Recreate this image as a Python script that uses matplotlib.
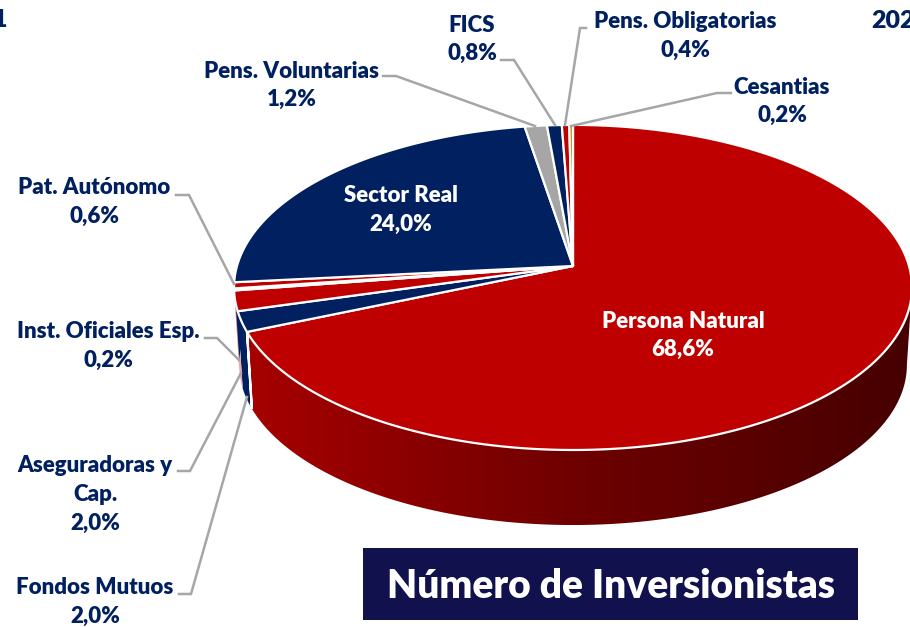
import matplotlib
matplotlib.use("Agg")
import matplotlib.pyplot as plt
import numpy as np
from matplotlib.colors import LinearSegmentedColormap
from matplotlib.patches import Polygon, Rectangle

plt.rcParams["font.family"] = ["Lato", "DejaVu Sans"]

# clockwise from 12 o'clock
categories = ["Persona Natural", "Fondos Mutuos", "Aseguradoras y\nCap.", "Inst. Oficiales Esp.",
              "Pat. Autónomo", "Sector Real", "Pens. Voluntarias", "FICS",
              "Pens. Obligatorias", "Cesantias"]
values = [68.6, 2.0, 2.0, 0.2, 0.6, 24.0, 1.2, 0.8, 0.4, 0.2]
colors = ["#BE0000", "#002060", "#BE0000", "#F4C6C6", "#BE0000", "#002060", "#A6A6A6", "#002060",
          "#BE0000", "#BF9000"]
side_colors = [None, "#002060", "#EDA9A9", "#EDA9A9", "#EDA9A9", "#002060", "#A6A6A6", "#002060",
               "#BE0000", "#BF9000"]

# label centre (first line) and where the leader goes, pixels
label_pos = [(683, 321), (95, 588), (95, 466), (108, 332), (94, 188), (401, 196), (292, 71),
             (472, 25), (685, 22), (782, 87)]
leaders = [None,
           [(179, 594), (191, 594), (247, 397)],
           [(178, 471), (190, 471), (241, 373)],
           [(205, 338), (217, 338), (239, 360)],
           [(176, 195), (189, 195), (234, 284)],
           None,
           [(383, 76), (396, 76), (535, 126)],
           [(501, 60), (514, 60), (555, 125)],
           [(586, 28), (580, 28), (565, 125)],
           [(731, 93), (717, 93), (571, 126)]]

NAVY = "#002060"
LINE = "#A6A6A6"
CX, CY = 573, 266
A, B, K = 336, 159.7, 0.132  # perspective of the pie top
DROP, SHRINK = 77.8, 0.985  # pie bottom


def project(theta, bottom=False):
    u, v = np.cos(theta), np.sin(theta)
    d = 1 + K * v
    x, y = A * u / d, -B * v / d
    if bottom:
        return CX + SHRINK * x, CY + DROP + SHRINK * y
    return CX + x, CY + y


def side_polygon(a0, a1):
    t = np.linspace(a0, a1, 200)
    x0, y0 = project(t)
    x1, y1 = project(t[::-1], bottom=True)
    return np.column_stack([np.r_[x0, x1], np.r_[y0, y1]])


fig = plt.figure(figsize=(9.1, 6.27), dpi=100)
ax = fig.add_axes([0, 0, 1, 1])
ax.set_xlim(0, 910)
ax.set_ylim(627, 0)
ax.axis("off")

ends = np.pi / 2 - np.cumsum(values) / 100 * 2 * np.pi
starts = np.r_[np.pi / 2, ends[:-1]]

# sides, only the part facing the viewer
left_limit = -np.pi - np.arcsin(K)
for i in range(len(values)):
    a0, a1 = starts[i], max(ends[i], left_limit)
    if i == 0:
        a0 = np.arcsin(-K)
        poly = side_polygon(a0, a1)
        patch = Polygon(poly, closed=True, fc="none", ec="none")
        ax.add_patch(patch)
        grad = LinearSegmentedColormap.from_list("wall", ["#A60000", "#6E0000", "#460000"])
        img = ax.imshow(np.linspace(0, 1, 256)[None, :], cmap=grad, aspect="auto",
                        extent=[poly[:, 0].min(), poly[:, 0].max(), poly[:, 1].max(), poly[:, 1].min()],
                        zorder=1)
        img.set_clip_path(patch)
        ax.add_patch(Polygon(side_polygon(a1, a1 + 0.001), closed=True, fc="none", ec="white", lw=1.6, zorder=2))
    elif a0 > a1 and a0 > left_limit and starts[i] < -np.pi / 2:
        ax.add_patch(Polygon(side_polygon(a0, a1), closed=True, fc=side_colors[i], ec="none", zorder=1))
ax.set_xlim(0, 910)
ax.set_ylim(627, 0)

# top face
for i in range(len(values)):
    t = np.linspace(starts[i], ends[i], max(int(values[i] * 6), 4))
    x, y = project(t)
    pts = np.column_stack([np.r_[CX, x], np.r_[CY, y]])
    ax.add_patch(Polygon(pts, closed=True, fc=colors[i], ec="white", lw=1.6, joinstyle="round", zorder=3))

for seg in leaders:
    if seg is not None:
        ax.plot(*zip(*seg), color=LINE, lw=1.8, zorder=4, solid_joinstyle="miter")

for name, val, pos in zip(categories, values, label_pos):
    inside = val > 20
    lines = name.split("\n") + [f"{val:.1f}".replace(".", ",") + "%"]
    for j, line in enumerate(lines):
        ax.text(pos[0], pos[1] + j * 28.8, line, ha="center", va="center", fontsize=16,
                fontweight="heavy", color="white" if inside else NAVY, zorder=5)

ax.text(7, 20, "1", ha="right", va="center", fontsize=18, fontweight="heavy", color=NAVY)
ax.text(871, 21, "202", ha="left", va="center", fontsize=18, fontweight="heavy", color=NAVY)

ax.add_patch(Rectangle((363, 548), 495, 72, fc="#11114D", ec="none", zorder=5))
ax.text(611, 586, "Número de Inversionistas", ha="center", va="center", fontsize=28,
        fontweight="heavy", color="white", zorder=6)

fig.savefig("out.png", dpi=100)
